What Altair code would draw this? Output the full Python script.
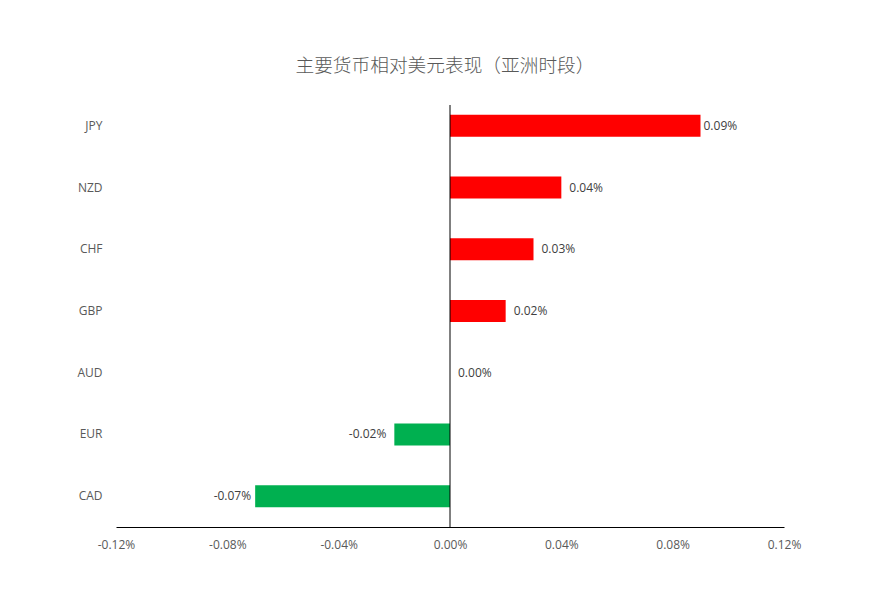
import altair as alt
import pandas as pd

title_text = "主要货币相对美元表现（亚洲时段）"
currencies = ["JPY", "NZD", "CHF", "GBP", "AUD", "EUR", "CAD"]
changes = [0.0009, 0.0004, 0.0003, 0.0002, 0.0, -0.0002, -0.0007]
x_ticks = [-0.0012, -0.0008, -0.0004, 0.0, 0.0004, 0.0008, 0.0012]

df = pd.DataFrame({"currency": currencies, "change": changes})
df["label"] = [f"{v:.2%}" for v in changes]

FONT = "Open Sans"

y_enc = alt.Y(
    "currency:N",
    sort=currencies,
    scale=alt.Scale(paddingInner=0.1, paddingOuter=0.05),
    axis=alt.Axis(
        title=None, domain=False, ticks=False, grid=False,
        labelPadding=14, labelFont=FONT, labelFontSize=12, labelColor="#595959",
    ),
)
x_enc = alt.X(
    "change:Q",
    scale=alt.Scale(domain=[x_ticks[0], x_ticks[-1]], nice=False),
    axis=alt.Axis(
        title=None, values=x_ticks, grid=False, ticks=False,
        domain=True, domainColor="#000000", domainWidth=1,
        labelExpr="(datum.value < 0 ? '-' : '') + format(abs(datum.value), '.2%')",
        labelFlush=False, labelOverlap=False, labelPadding=12,
        labelFont=FONT, labelFontSize=12, labelColor="#595959",
    ),
)

base = alt.Chart(df)

bars = base.mark_bar(size=22).encode(
    y=y_enc,
    x=x_enc,
    color=alt.condition("datum.change >= 0", alt.value("#FF0000"), alt.value("#00B050")),
)

zero_rule = alt.Chart(pd.DataFrame({"zero": [0.0]})).mark_rule(
    color="#000000", strokeWidth=1
).encode(x=alt.X("zero:Q"), y=alt.value(10), y2=alt.value(432))

text_style = dict(font=FONT, fontSize=12, color="#404040", baseline="middle")

pos_text = base.transform_filter(
    "datum.change >= 0 && datum.currency != 'JPY'"
).mark_text(align="left", dx=8, **text_style).encode(
    y=alt.Y("currency:N", sort=currencies), x="change:Q", text="label:N"
)
top_text = base.transform_filter(
    "datum.currency == 'JPY'"
).mark_text(align="left", dx=3, **text_style).encode(
    y=alt.Y("currency:N", sort=currencies), x="change:Q", text="label:N"
)
eur_text = base.transform_filter(
    "datum.currency == 'EUR'"
).mark_text(align="right", dx=-8, **text_style).encode(
    y=alt.Y("currency:N", sort=currencies), x="change:Q", text="label:N"
)
cad_text = base.transform_filter(
    "datum.currency == 'CAD'"
).mark_text(align="right", dx=-4, **text_style).encode(
    y=alt.Y("currency:N", sort=currencies), x="change:Q", text="label:N"
)

chart = alt.layer(bars, zero_rule, pos_text, top_text, eur_text, cad_text).properties(
    width=668,
    height=432,
    autosize=alt.AutoSizeParams(type="none"),
    padding={"left": 108, "top": 87, "right": 89, "bottom": 71},
    background="#ffffff",
    title=alt.TitleParams(
        text=title_text,
        font="Noto Sans CJK SC",
        fontSize=18.7,
        fontWeight=300,
        color="#595959",
        anchor="middle",
        dx=-5,
        offset=19,
    ),
).configure_view(stroke=None)

chart.save("out.html", embed_options={"renderer": "svg", "actions": False})
